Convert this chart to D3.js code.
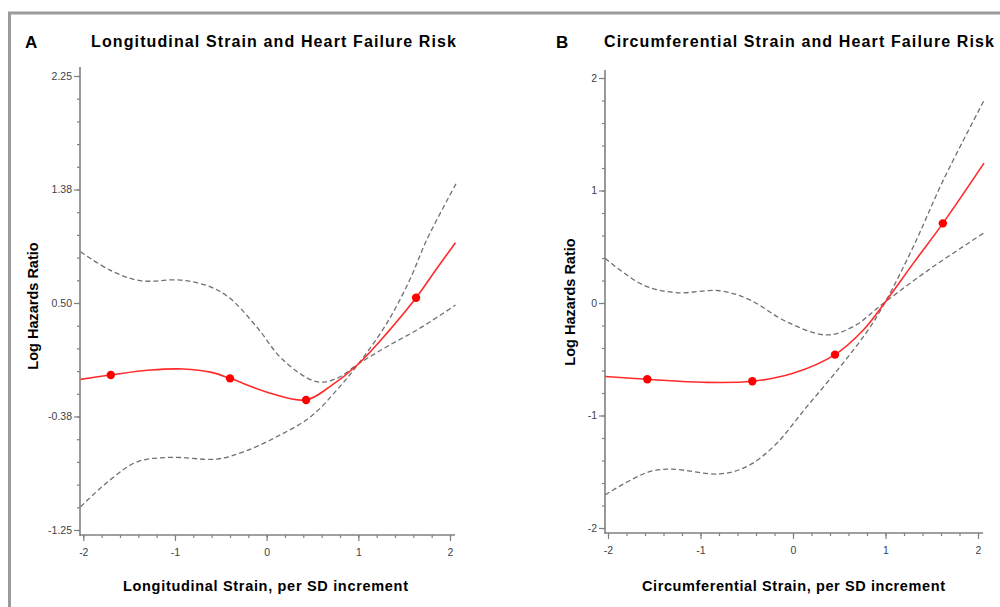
<!DOCTYPE html>
<html>
<head>
<meta charset="utf-8">
<script src="https://cdn.jsdelivr.net/npm/d3@7"></script>
<style>
  body { margin: 0; background: #fff; }
  svg { display: block; font-family: "Liberation Sans", Arial, sans-serif; }
</style>
</head>
<body>
<div id="chart"></div>
<script>
// ---- data ----
// panel A : longitudinal strain
var aRedX = [-2.03, -1.70, -1.27, -0.91, -0.60, -0.40, 0.04, 0.43, 0.69, 1.0, 1.31, 1.63, 1.86, 2.06];
var aRedY = [-0.089, -0.055, -0.017, -0.009, -0.035, -0.081, -0.196, -0.248, -0.145, 0.03, 0.266, 0.54, 0.77, 0.965];
var aDotX = [-1.70, -0.40, 0.43, 1.63];
var aDotY = [-0.055, -0.081, -0.248, 0.54];
var aUpX = [-2.03, -1.71, -1.38, -0.94, -0.62, -0.40, -0.11, 0.18, 0.545, 0.765, 1.0, 1.31, 1.67, 2.06];
var aUpY = [0.895, 0.754, 0.672, 0.677, 0.626, 0.536, 0.317, 0.060, -0.107, -0.081, 0.03, 0.163, 0.305, 0.484];
var aLoX = [-2.03, -1.71, -1.41, -1.05, -0.54, -0.25, 0.11, 0.48, 0.765, 1.0, 1.31, 1.56, 1.745, 2.066];
var aLoY = [-1.071, -0.865, -0.724, -0.690, -0.703, -0.647, -0.531, -0.377, -0.171, 0.03, 0.343, 0.677, 0.985, 1.42];
var aYTicks = [-1.25, -0.375, 0.5, 1.375, 2.25];
var aYLabels = ["-1.25", "-0.38", "0.50", "1.38", "2.25"];

// panel B : circumferential strain
var bRedX = [-2.03, -1.575, -0.97, -0.44, 0.0, 0.454, 0.76, 1.0, 1.30, 1.62, 2.065];
var bRedY = [-0.654, -0.678, -0.705, -0.696, -0.625, -0.459, -0.24, 0.012, 0.352, 0.708, 1.243];
var bDotX = [-1.575, -0.44, 0.454, 1.62];
var bDotY = [-0.678, -0.696, -0.459, 0.708];
var bUpX = [-2.03, -1.62, -1.26, -0.79, -0.465, -0.07, 0.36, 0.65, 1.0, 1.515, 2.057];
var bUpY = [0.397, 0.16, 0.092, 0.109, 0.027, -0.166, -0.284, -0.21, 0.012, 0.322, 0.619];
var bLoX = [-2.03, -1.58, -1.33, -0.79, -0.50, -0.21, 0.15, 0.51, 0.80, 1.0, 1.30, 1.625, 2.065];
var bLoY = [-1.705, -1.507, -1.477, -1.519, -1.454, -1.276, -0.921, -0.566, -0.255, 0.012, 0.5, 1.092, 1.8];
var bYTicks = [-2, -1, 0, 1, 2];
var bYLabels = ["-2", "-1", "0", "1", "2"];

var xTicks = [-2, -1, 0, 1, 2];
var xLabels = ["-2", "-1", "0", "1", "2"];

const svg = d3.select("#chart").append("svg")
  .attr("width", 1000)
  .attr("height", 607);

// outer grey frame (only top and left visible)
svg.append("rect")
  .attr("x", 9.5).attr("y", 13)
  .attr("width", 1010).attr("height", 620)
  .attr("fill", "none")
  .attr("stroke", "#9a9a9a")
  .attr("stroke-width", 3);

function zip(xs, ys) { return xs.map((v, i) => [v, ys[i]]); }

function drawPanel(p) {
  const x = d3.scaleLinear().domain([-2, 2]).range(p.xRange);
  const y = d3.scaleLinear().domain(p.yDomain).range(p.yRange);
  const g = svg.append("g");

  // minor ticks
  const minorX = d3.range(-2, 2.001, 0.2);
  const minorY = d3.range(p.yDomain[0], p.yDomain[1] + 1e-6, (p.yDomain[1] - p.yDomain[0]) / 20);

  g.append("g")
    .attr("transform", `translate(${p.axisX},0)`)
    .call(d3.axisLeft(y).tickValues(minorY).tickSize(3).tickFormat(""))
    .call(s => s.select(".domain").remove());
  g.append("g")
    .attr("transform", `translate(0,${p.axisY})`)
    .call(d3.axisBottom(x).tickValues(minorX).tickSize(3).tickFormat(""))
    .call(s => s.select(".domain").remove());

  // major ticks
  g.append("g")
    .attr("transform", `translate(${p.axisX},0)`)
    .call(d3.axisLeft(y).tickValues(p.yTicks).tickSize(6).tickPadding(2)
      .tickFormat((d, i) => p.yLabels[i]))
    .call(s => s.select(".domain").remove());
  g.append("g")
    .attr("transform", `translate(0,${p.axisY})`)
    .call(d3.axisBottom(x).tickValues(xTicks).tickSize(6).tickPadding(8)
      .tickFormat((d, i) => xLabels[i]))
    .call(s => s.select(".domain").remove());

  g.selectAll(".tick line").attr("stroke", "#808080").attr("stroke-width", 1.2);
  g.selectAll(".tick text")
    .attr("fill", "#3a3f4a")
    .style("font-family", "'Liberation Sans', Arial, sans-serif")
    .style("font-size", "10.5px");

  // axis lines
  g.append("line")
    .attr("x1", p.axisX).attr("x2", p.axisX)
    .attr("y1", p.axisTop).attr("y2", p.axisY + 1)
    .attr("stroke", "#808080").attr("stroke-width", 1.6);
  g.append("line")
    .attr("x1", p.axisX).attr("x2", p.axisRight)
    .attr("y1", p.axisY).attr("y2", p.axisY)
    .attr("stroke", "#808080").attr("stroke-width", 1.6);

  const line = d3.line()
    .x(d => x(d[0]))
    .y(d => y(d[1]))
    .curve(d3.curveCatmullRom.alpha(0.5));

  // confidence bands
  [zip(p.upX, p.upY), zip(p.loX, p.loY)].forEach(function(pts) {
    g.append("path")
      .datum(pts)
      .attr("d", line)
      .attr("fill", "none")
      .attr("stroke", "#707070")
      .attr("stroke-width", 1.3)
      .attr("stroke-dasharray", "5,3");
  });

  // estimate
  g.append("path")
    .datum(zip(p.redX, p.redY))
    .attr("d", line)
    .attr("fill", "none")
    .attr("stroke", "#ff2a2a")
    .attr("stroke-width", 1.6);

  g.selectAll("circle.dot")
    .data(zip(p.dotX, p.dotY))
    .join("circle")
      .attr("class", "dot")
      .attr("cx", d => x(d[0]))
      .attr("cy", d => y(d[1]))
      .attr("r", 4.2)
      .attr("fill", "#ff0000");

  // titles
  svg.append("text")
    .attr("x", p.letterX).attr("y", 48)
    .attr("font-weight", "bold").attr("font-size", 17)
    .text(p.letter);
  svg.append("text")
    .attr("x", p.titleX).attr("y", 47)
    .attr("font-weight", "bold").attr("font-size", 16)
    .attr("textLength", p.titleW).attr("lengthAdjust", "spacing")
    .text(p.title);
  svg.append("text")
    .attr("x", p.xTitleX).attr("y", 591)
    .attr("font-weight", "bold").attr("font-size", 14.5)
    .attr("textLength", p.xTitleW).attr("lengthAdjust", "spacing")
    .text(p.xTitle);
  svg.append("text")
    .attr("transform", `translate(${p.yTitleX},${p.yTitleY}) rotate(-90)`)
    .attr("text-anchor", "middle")
    .attr("font-weight", "bold").attr("font-size", 14.5)
    .text("Log Hazards Ratio");
}

drawPanel({
  xRange: [83.3, 450], yDomain: [-1.25, 2.25], yRange: [530, 76],
  axisX: 80, axisY: 535, axisTop: 67, axisRight: 455,
  yTicks: aYTicks, yLabels: aYLabels,
  redX: aRedX, redY: aRedY, dotX: aDotX, dotY: aDotY,
  upX: aUpX, upY: aUpY, loX: aLoX, loY: aLoY,
  letter: "A", letterX: 25,
  title: "Longitudinal Strain and Heart Failure Risk", titleX: 91, titleW: 365,
  xTitle: "Longitudinal Strain, per SD increment", xTitleX: 123, xTitleW: 285,
  yTitleX: 38, yTitleY: 306
});

drawPanel({
  xRange: [608, 978], yDomain: [-2, 2], yRange: [528, 78],
  axisX: 605, axisY: 533, axisTop: 70, axisRight: 983,
  yTicks: bYTicks, yLabels: bYLabels,
  redX: bRedX, redY: bRedY, dotX: bDotX, dotY: bDotY,
  upX: bUpX, upY: bUpY, loX: bLoX, loY: bLoY,
  letter: "B", letterX: 556,
  title: "Circumferential Strain and Heart Failure Risk", titleX: 604, titleW: 390,
  xTitle: "Circumferential Strain, per SD increment", xTitleX: 642, xTitleW: 303,
  yTitleX: 575, yTitleY: 302
});
</script>
</body>
</html>
